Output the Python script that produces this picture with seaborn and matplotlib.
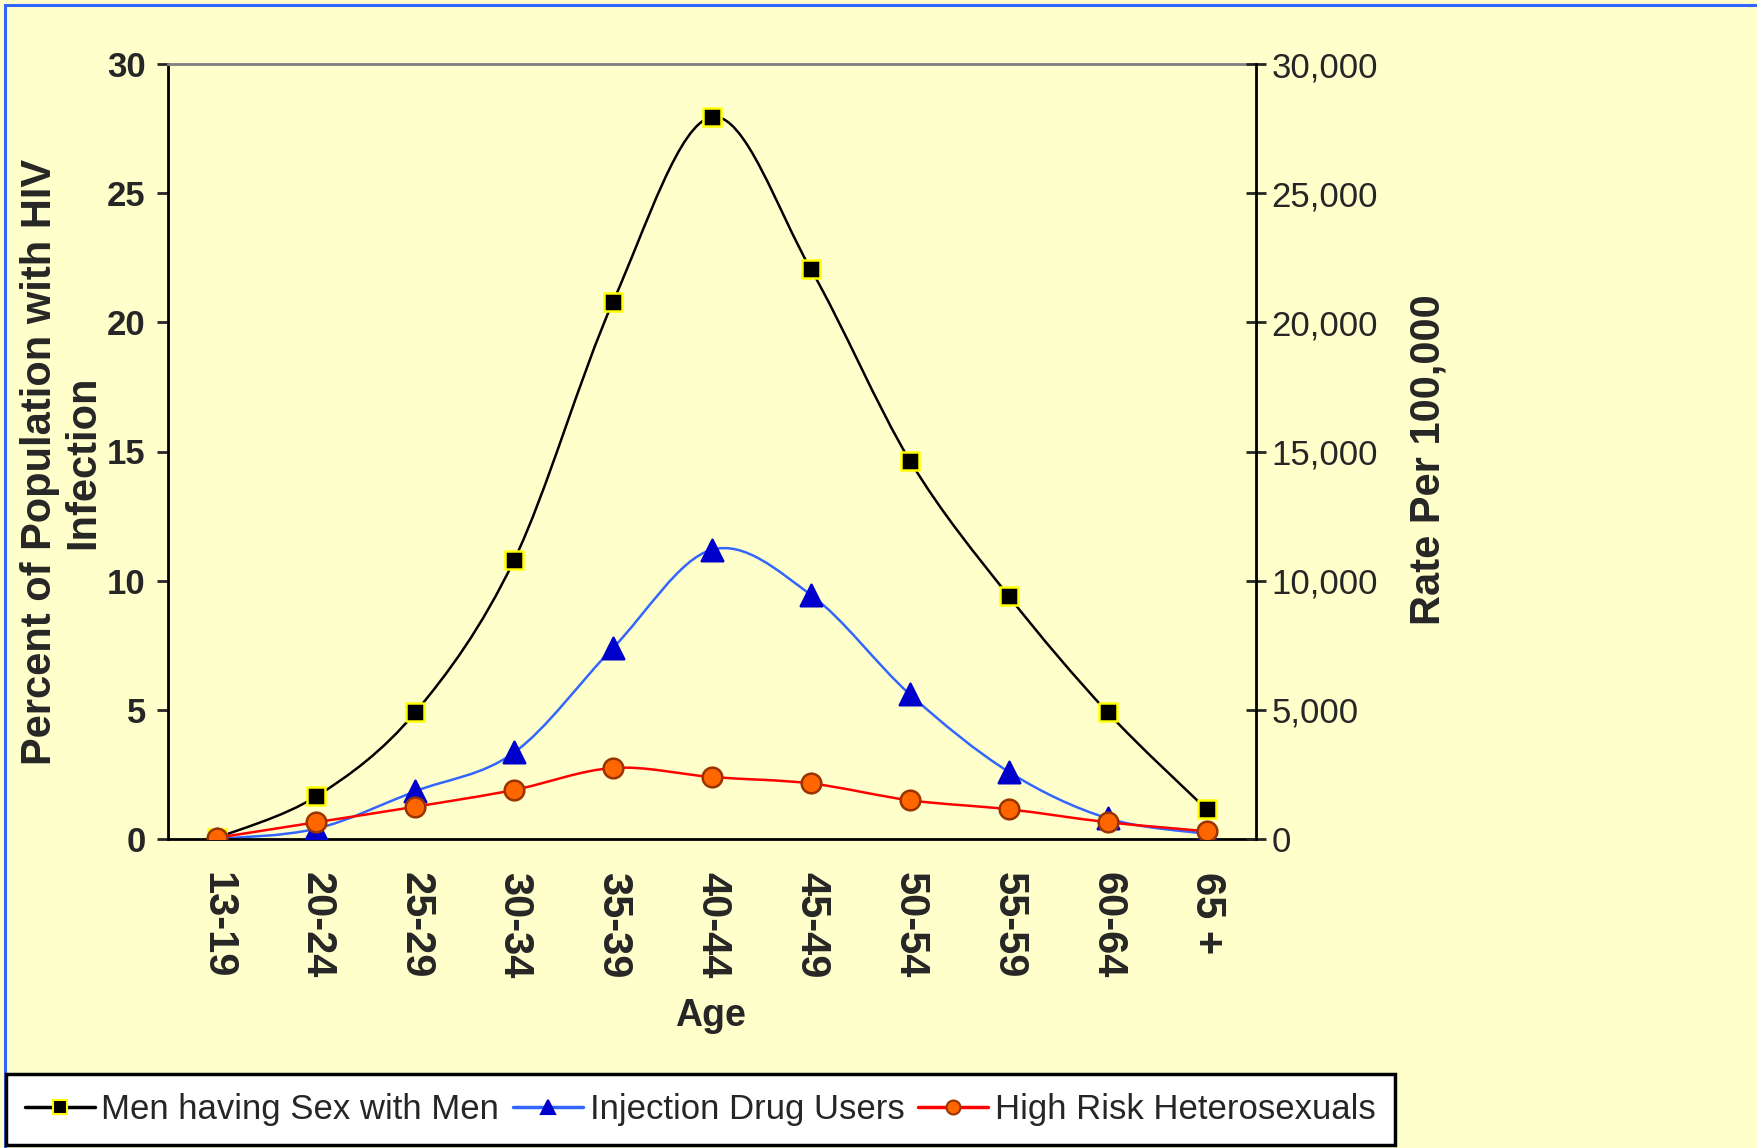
import numpy as np
import matplotlib
matplotlib.use("Agg")
import matplotlib.pyplot as plt
import seaborn as sns
from matplotlib.path import Path
from matplotlib.patches import PathPatch, Rectangle
from matplotlib.lines import Line2D
from matplotlib.ticker import FuncFormatter

ages = ["13-19", "20-24", "25-29", "30-34", "35-39", "40-44",
        "45-49", "50-54", "55-59", "60-64", "65 +"]
msm = [0.05, 1.65, 4.9, 10.8, 20.8, 27.95, 22.05, 14.65, 9.4, 4.9, 1.15]
idu = [0.0, 0.4, 1.85, 3.35, 7.4, 11.2, 9.45, 5.6, 2.6, 0.8, 0.2]
hrh = [0.05, 0.65, 1.25, 1.9, 2.75, 2.4, 2.15, 1.5, 1.15, 0.65, 0.3]

BG = "#FFFFCC"

sns.set_style("white")
plt.rcParams["font.family"] = ["Liberation Sans", "DejaVu Sans"]


def smooth_path(xs, ys):
    # Catmull-Rom style bezier, like Excel's "smoothed line"
    pts = np.column_stack([xs, ys]).astype(float)
    verts = [pts[0]]
    codes = [Path.MOVETO]
    n = len(pts)
    for i in range(n - 1):
        p0 = pts[i - 1] if i > 0 else pts[i]
        p1 = pts[i]
        p2 = pts[i + 1]
        p3 = pts[i + 2] if i + 2 < n else pts[i + 1]
        c1 = p1 + (p2 - p0) / 6.0
        c2 = p2 - (p3 - p1) / 6.0
        verts += [c1, c2, p2]
        codes += [Path.CURVE4] * 3
    return Path(verts, codes)


fig = plt.figure(figsize=(17.57, 11.48), dpi=100, facecolor=BG)
ax = fig.add_axes([168 / 1757, 1 - 839 / 1148, 1088 / 1757, 775 / 1148])
ax.set_facecolor(BG)

x = np.arange(len(ages))
series = [
    ("Men having Sex with Men", msm, "black", "s", "black", "#FFFF00", 150),
    ("Injection Drug Users", idu, "#3366FF", "^", "#0000CC", "#0000CC", 240),
    ("High Risk Heterosexuals", hrh, "#FF0000", "o", "#FF6600", "#993300", 200),
]
handles = []
for label, vals, lc, mk, fc, ec, s in series:
    ax.add_patch(PathPatch(smooth_path(x, vals), facecolor="none",
                           edgecolor=lc, lw=1.8, zorder=2))
    sns.scatterplot(x=x, y=vals, marker=mk, s=s, color=fc, edgecolor=ec,
                    linewidth=1.8, ax=ax, zorder=3, legend=False)
    handles.append(Line2D([], [], color=lc, lw=2.5, marker=mk,
                          markerfacecolor=fc, markeredgecolor=ec,
                          markersize=10, markeredgewidth=1.5, label=label))

ax.set_xlim(-0.5, len(ages) - 0.5)
ax.set_ylim(0, 30)
ax.set_yticks(range(0, 31, 5))
ax.set_xticks(np.arange(-0.5, len(ages), 1.0))
ax.set_xticklabels([])
ax.set_xticks(x, minor=True)
ax.set_xticklabels(ages, minor=True, rotation=-90, fontweight="bold",
                   fontsize=30)
ax.tick_params(axis="x", which="major", direction="out", length=9, width=2)
ax.tick_params(axis="x", which="minor", length=0, pad=24)
ax.tick_params(axis="y", direction="out", length=8, width=2,
               labelsize=25, pad=8)
for t in ax.get_yticklabels():
    t.set_fontweight("bold")

for side in ["left", "bottom"]:
    ax.spines[side].set_color("black")
    ax.spines[side].set_linewidth(2)
ax.spines["top"].set_color("#808080")
ax.spines["top"].set_linewidth(2)
ax.spines["right"].set_visible(False)

ax2 = ax.twinx()
ax2.set_ylim(0, 30000)
ax2.set_yticks(range(0, 30001, 5000))
ax2.yaxis.set_major_formatter(FuncFormatter(lambda v, p: f"{int(v):,}"))
ax2.tick_params(axis="y", direction="inout", length=14, width=2,
                labelsize=25, pad=4)
for side in ["left", "top", "bottom"]:
    ax2.spines[side].set_visible(False)
ax2.spines["right"].set_color("black")
ax2.spines["right"].set_linewidth(2)

ax.set_ylabel("Percent of Population with HIV\nInfection", fontsize=30,
              fontweight="bold", va="center", multialignment="center",
              linespacing=1.1)
ax.yaxis.set_label_coords((62 - 168) / 1088, 0.486)
ax2.set_ylabel("Rate Per 100,000", fontsize=30, fontweight="bold",
               rotation=90, va="center")
ax2.yaxis.set_label_coords((1429 - 168) / 1088, 0.49)
ax.set_xlabel("Age", fontsize=27, fontweight="bold", va="center")
ax.xaxis.set_label_coords(0.499, (839 - 1016) / 775)

leg = fig.legend(handles=handles, loc="lower left",
                 bbox_to_anchor=(6 / 1757, 3 / 1148), ncol=3,
                 fontsize=25, frameon=True, fancybox=False,
                 edgecolor="black", facecolor="white", framealpha=1,
                 handlelength=2.0, handletextpad=0.2, columnspacing=0.4,
                 borderpad=0.55, borderaxespad=0)
leg.get_frame().set_linewidth(2.5)

# blue outline of the chart area
fig.patches.append(Rectangle((5 / 1757, -0.05), 1.1, 1 - 5 / 1148 + 0.05,
                             transform=fig.transFigure, fill=False,
                             edgecolor="#3366FF", lw=2.2, zorder=0))

fig.savefig("out.png", dpi=100, facecolor=BG)
